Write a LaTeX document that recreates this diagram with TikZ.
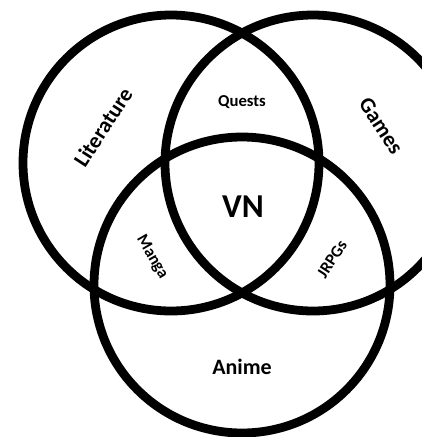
\documentclass[tikz,border=0pt]{standalone}
\usepackage{fontspec}
\setmainfont{Carlito}
\usepackage{tikz}

\begin{document}
\begin{tikzpicture}[x = 0.02cm, y = -0.02cm, font = \bfseries]
        \useasboundingbox (0,0) rectangle (422,437);

        \draw [line width = 5pt]
        (171,163) circle (148);

        \draw [line width = 5pt]
        (313,163) circle (148);

        \draw [line width = 5pt]
        (242,285) circle (148);

        \node (lit) [rotate = 57, font = \bfseries\fontsize{12.5}{15}\selectfont] at (103,127) {Literature};
        \node (games) [rotate = -57, font = \bfseries\fontsize{12.5}{15}\selectfont] at (381,126) {Games};
        \node (anime) [font = \bfseries\fontsize{12.5}{15}\selectfont] at (242,367) {Anime};
        \node (quests) [font = \bfseries\fontsize{9.5}{12}\selectfont] at (242,102) {Quests};
        \node (manga) [rotate = -60, font = \bfseries\fontsize{9.5}{12}\selectfont] at (152,257) {Manga};
        \node (jrpgs) [rotate = 57, font = \bfseries\fontsize{9.5}{12}\selectfont] at (332,259) {JRPGs};
        \node (vn) [font = \bfseries\fontsize{19}{23}\selectfont] at (243,207) {VN};
    \end{tikzpicture}
\end{document}
